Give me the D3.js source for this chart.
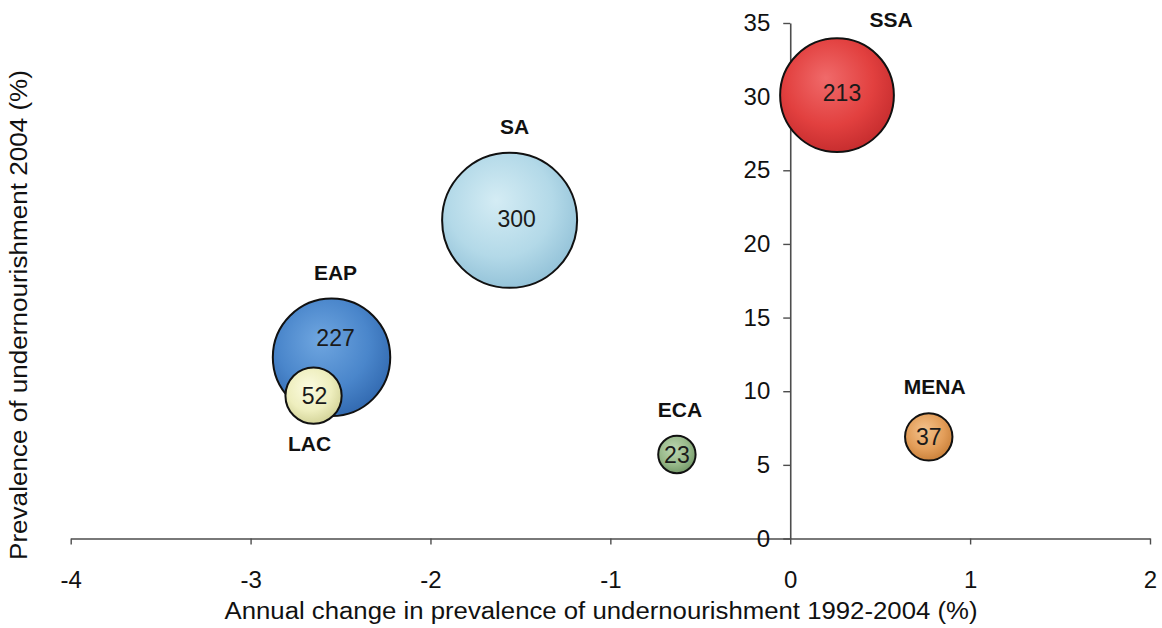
<!DOCTYPE html>
<html>
<head>
<meta charset="utf-8">
<script src="https://cdn.jsdelivr.net/npm/d3@7"></script>
<style>
  html, body { margin: 0; padding: 0; background: #fff; }
  svg { display: block; font-family: "Liberation Sans", Arial, sans-serif; }
</style>
</head>
<body>
<svg id="chart" width="1162" height="628"></svg>
<script>
// ---- Data ----
const regions = ["SA", "SSA", "EAP", "LAC", "ECA", "MENA"];
const annualChange = [-1.56, 0.26, -2.55, -2.65, -0.63, 0.77];   // x (%)
const prevalence2004 = [21.6, 30.1, 12.3, 9.7, 5.7, 6.9];        // y (%)
const undernourished = [300, 213, 227, 52, 23, 37];               // bubble size (millions)
const xTicks = [-4, -3, -2, -1, 0, 1, 2];
const yTicks = [0, 5, 10, 15, 20, 25, 30, 35];
const xTitle = "Annual change in prevalence of undernourishment 1992-2004 (%)";
const yTitle = "Prevalence of undernourishment 2004 (%)";

// ---- Styles (not data) ----
const style = {
  SA:   { light: "#d4ecf4", base: "#b3d9e8", dark: "#8fbfd6", valDx: 7, valDy: -2 },
  SSA:  { light: "#f06a6a", base: "#e2403f", dark: "#c22a2c", valDx: 5, valDy: -2 },
  EAP:  { light: "#6fa6e0", base: "#4a86cb", dark: "#2f66ad", valDx: 4, valDy: -20 },
  LAC:  { light: "#fbfbe0", base: "#eeeebe", dark: "#cfcf92", valDx: 1, valDy: 0 },
  ECA:  { light: "#bcd6b0", base: "#98b98a", dark: "#6d9362", valDx: 0, valDy: 0 },
  MENA: { light: "#f3c28c", base: "#e39e5a", dark: "#c67c35", valDx: 0, valDy: 0 }
};
const namePlace = { SA: "above", SSA: "aboveRight", EAP: "above", LAC: "below", ECA: "above", MENA: "above" };
const nameDx = { SA: 5, SSA: 54, EAP: 4, LAC: -4, ECA: 3, MENA: 6 };

const svg = d3.select("#chart");

const x = d3.scaleLinear().domain([-4, 2]).range([70.7, 1150]);
const y = d3.scaleLinear().domain([0, 35]).range([538.5, 23]);
const r = d3.scaleSqrt().domain([0, 300]).range([0, 67.5]);

const defs = svg.append("defs");
regions.forEach(k => {
  const g = defs.append("radialGradient")
    .attr("id", "grad-" + k)
    .attr("cx", "45%").attr("cy", "40%").attr("r", "65%").attr("fx", "40%").attr("fy", "35%");
  g.append("stop").attr("offset", "0%").attr("stop-color", style[k].light);
  g.append("stop").attr("offset", "60%").attr("stop-color", style[k].base);
  g.append("stop").attr("offset", "100%").attr("stop-color", style[k].dark);
});

// ---- Axes ----
const axisColor = "#4d4d4d";
const xAxis = svg.append("g")
  .attr("transform", `translate(0,${y(0)})`)
  .call(d3.axisBottom(x).tickValues(xTicks).tickSize(6).tickSizeOuter(0).tickPadding(26).tickFormat(d3.format("d")));
xAxis.selectAll("text").attr("font-size", 24).attr("fill", "#111").text(d => d < 0 ? "-" + Math.abs(d) : d);

const yAxis = svg.append("g")
  .attr("transform", `translate(${x(0)},0)`)
  .call(d3.axisLeft(y).tickValues(yTicks).tickSize(7).tickSizeOuter(0).tickPadding(13));
yAxis.selectAll("text").attr("font-size", 24).attr("fill", "#111");

[xAxis, yAxis].forEach(a => {
  a.selectAll("path.domain").attr("stroke", axisColor).attr("stroke-width", 1.6);
  a.selectAll(".tick line").attr("stroke", axisColor).attr("stroke-width", 1.4);
  a.attr("font-family", "\"Liberation Sans\", Arial, sans-serif");
});

// ---- Axis titles ----
svg.append("text")
  .attr("x", 601).attr("y", 619)
  .attr("text-anchor", "middle")
  .attr("font-size", 23).attr("fill", "#111")
  .attr("textLength", 753).attr("lengthAdjust", "spacingAndGlyphs")
  .text(xTitle);

svg.append("text")
  .attr("transform", "translate(27,315) rotate(-90)")
  .attr("text-anchor", "middle")
  .attr("font-size", 23).attr("fill", "#111")
  .attr("textLength", 490).attr("lengthAdjust", "spacingAndGlyphs")
  .text(yTitle);

// ---- Bubbles ----
const data = regions.map((k, i) => ({ k, x: annualChange[i], y: prevalence2004[i], v: undernourished[i] }));

const bubbles = svg.append("g").selectAll("g").data(data).join("g")
  .attr("transform", d => `translate(${x(d.x)},${y(d.y)})`);

bubbles.append("circle")
  .attr("r", d => r(d.v))
  .attr("fill", d => `url(#grad-${d.k})`)
  .attr("stroke", "#111")
  .attr("stroke-width", 2);

bubbles.append("text")
  .attr("x", d => style[d.k].valDx)
  .attr("y", d => style[d.k].valDy)
  .attr("dy", "0.36em")
  .attr("text-anchor", "middle")
  .attr("font-size", 23)
  .attr("fill", "#1a1a1a")
  .text(d => d.v);

// region name labels
svg.append("g").selectAll("text").data(data).join("text")
  .attr("x", d => x(d.x) + nameDx[d.k])
  .attr("y", d => {
    const cy = y(d.y), rr = r(d.v);
    if (namePlace[d.k] === "aboveRight") return 27;
    if (namePlace[d.k] === "below") return cy + rr + 27;
    return cy - rr - 19;
  })
  .attr("text-anchor", "middle")
  .attr("font-size", 21)
  .attr("font-weight", "bold")
  .attr("fill", "#111")
  .text(d => d.k);
</script>
</body>
</html>
